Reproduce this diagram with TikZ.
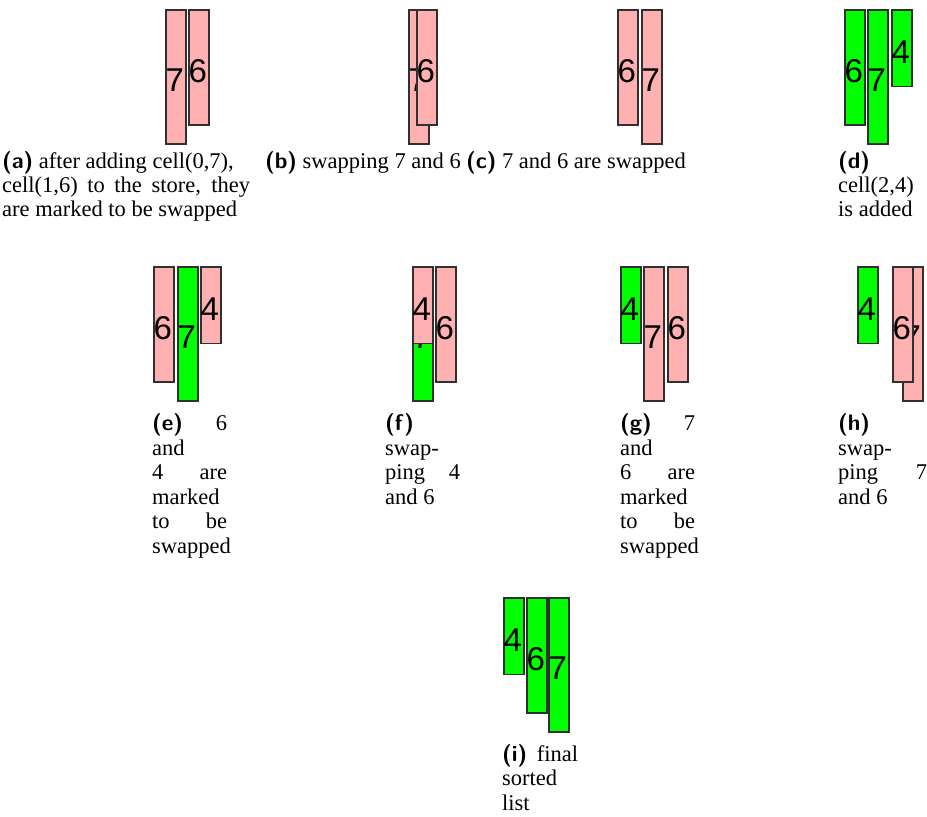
\documentclass[tikz,border=0pt]{standalone}
\usepackage{fontspec}
\setmainfont{Liberation Serif}
\newfontfamily\digitfont{Liberation Sans}
\definecolor{pinkfill}{RGB}{255,176,176}
\definecolor{greenfill}{RGB}{0,255,0}
\definecolor{barline}{RGB}{48,48,48}
\newcommand\lab[1]{{\sffamily\bfseries #1}}
\newcommand\jline[2]{\makebox[#1][s]{#2}}
\newcommand\cellbar[5]{%
  \node[#1bar, minimum height=#5*19.2pt] (#2) at (#3,#4) {};
  \node[digit] (#2d) at ([xshift=0.5pt,yshift=-3.5pt]#2.west) {#5};}
\begin{document}
\begin{tikzpicture}[x=1pt,y=-1pt,
  bar/.style={draw=barline, line width=1.6pt, minimum width=20pt, inner sep=0pt, anchor=north west},
  pinkbar/.style={bar, fill=pinkfill},
  greenbar/.style={bar, fill=greenfill},
  digit/.style={inner sep=0pt, anchor=west, font=\digitfont\fontsize{33}{33}\selectfont},
  captext/.style={inner sep=0pt, anchor=base west, font=\fontsize{22.5}{24}\selectfont},
]
\useasboundingbox (0,0) rectangle (927,817);
% (a)
\cellbar{pink}{a7}{165}{9}{7}
\cellbar{pink}{a6}{188}{9}{6}
% (b)
\cellbar{pink}{b7}{408}{9}{7}
\cellbar{pink}{b6}{416}{9}{6}
% (c)
\cellbar{pink}{c6}{617}{9}{6}
\cellbar{pink}{c7}{641}{9}{7}
% (d)
\cellbar{green}{d6}{844}{9}{6}
\cellbar{green}{d7}{867}{9}{7}
\cellbar{green}{d4}{891}{9}{4}
% (e)
\cellbar{pink}{e6}{153}{266}{6}
\cellbar{green}{e7}{177}{266}{7}
\cellbar{pink}{e4}{200}{266}{4}
% (f)
\cellbar{green}{f7}{412}{266}{7}
\cellbar{pink}{f4}{412}{266}{4}
\cellbar{pink}{f6}{435}{266}{6}
% (g)
\cellbar{green}{g4}{620}{266}{4}
\cellbar{pink}{g7}{643}{266}{7}
\cellbar{pink}{g6}{667}{266}{6}
% (h)
\cellbar{green}{h4}{857}{266}{4}
\cellbar{pink}{h7}{902}{266}{7}
\cellbar{pink}{h6}{892}{266}{6}
% (i)
\cellbar{green}{i4}{503}{597}{4}
\cellbar{green}{i6}{526}{597}{6}
\cellbar{green}{i7}{548}{597}{7}
% captions row 1
\node[captext] (ca1) at (2,168) {\lab{(a)} after adding cell(0,7),};
\node[captext] (ca2) at (2,192) {\jline{248pt}{cell(1,6) to the store, they}};
\node[captext] (ca3) at (2,216) {are marked to be swapped};
\node[captext] (cb1) at (265,168) {\lab{(b)} swapping 7 and 6};
\node[captext] (cc1) at (466,168) {\lab{(c)} 7 and 6 are swapped};
\node[captext] (cd1) at (838,168) {\lab{(d)}};
\node[captext] (cd2) at (838,192) {cell(2,4)};
\node[captext] (cd3) at (838,216) {is added};
% captions row 2
\node[captext] (ce1) at (152,430) {\jline{75pt}{\lab{(e)} 6}};
\node[captext] (ce2) at (152,455) {and};
\node[captext] (ce3) at (152,479) {\jline{75pt}{4 are}};
\node[captext] (ce4) at (152,504) {marked};
\node[captext] (ce5) at (152,528) {\jline{75pt}{to be}};
\node[captext] (ce6) at (152,553) {swapped};
\node[captext] (cf1) at (385,430) {\lab{(f)}};
\node[captext] (cf2) at (385,455) {swap-};
\node[captext] (cf3) at (385,479) {\jline{75pt}{ping 4}};
\node[captext] (cf4) at (385,504) {and 6};
\node[captext] (cg1) at (620,430) {\jline{75pt}{\lab{(g)} 7}};
\node[captext] (cg2) at (620,455) {and};
\node[captext] (cg3) at (620,479) {\jline{75pt}{6 are}};
\node[captext] (cg4) at (620,504) {marked};
\node[captext] (cg5) at (620,528) {\jline{75pt}{to be}};
\node[captext] (cg6) at (620,553) {swapped};
\node[captext] (ch1) at (838,430) {\lab{(h)}};
\node[captext] (ch2) at (838,455) {swap-};
\node[captext] (ch3) at (838,479) {\jline{89pt}{ping 7}};
\node[captext] (ch4) at (838,504) {and 6};
% captions row 3
\node[captext] (ci1) at (502,761) {\jline{76pt}{\lab{(i)} final}};
\node[captext] (ci2) at (502,785) {sorted};
\node[captext] (ci3) at (502,810) {list};
\end{tikzpicture}
\end{document}
